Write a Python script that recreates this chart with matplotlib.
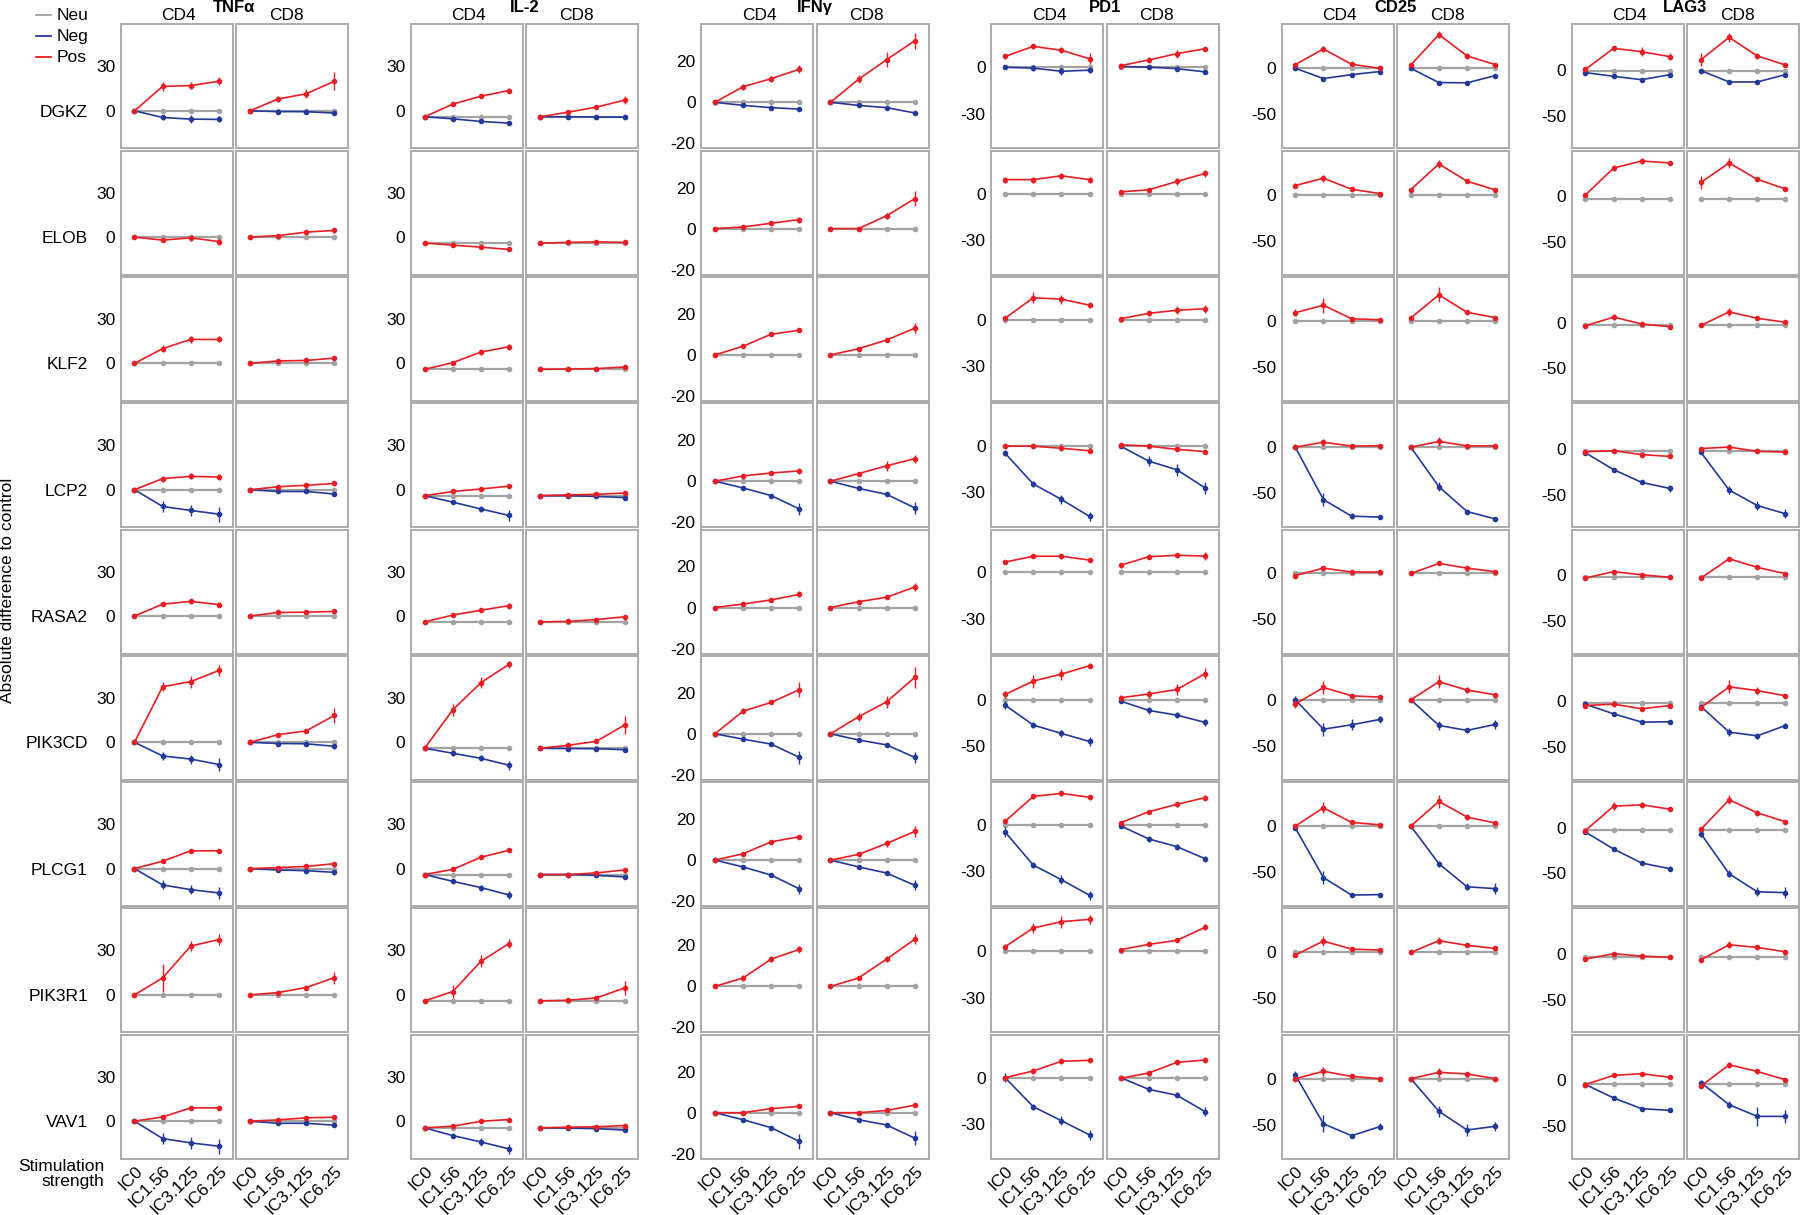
import numpy as np
import matplotlib
matplotlib.use("Agg")
import matplotlib.pyplot as plt
from matplotlib.lines import Line2D

plt.rcParams["font.family"] = ["Liberation Sans", "DejaVu Sans"]
plt.rcParams["axes.unicode_minus"] = False

# ---------------------------------------------------------------- data
doses = ["IC0", "IC1.56", "IC3.125", "IC6.25"]
cells = ["CD4", "CD8"]
genes = ["DGKZ", "ELOB", "KLF2", "LCP2", "RASA2", "PIK3CD", "PLCG1", "PIK3R1", "VAV1"]
neg_genes = ["DGKZ", "LCP2", "PIK3CD", "PLCG1", "VAV1"]
markers = ["TNFα", "IL-2", "IFNγ", "PD1", "CD25", "LAG3"]

# each entry: [CD4 values, CD8 values] per gene (order of `genes` / `neg_genes`)
tnfa_neu = [0, 0, 0, 0, 0, 0, 0, 0, 0]
tnfa_pos = [
    [[0, 16.5, 17, 20], [0, 8, 11.5, 20]],
    [[0, -2, -0.5, -3], [0, 1, 3.4, 4.5]],
    [[0, 10, 16.2, 16.2], [0, 1.7, 2, 3.6]],
    [[0, 7.5, 9, 8.6], [0, 2, 3, 4.2]],
    [[0, 8, 9.9, 7.7], [0, 2.4, 2.6, 3.1]],
    [[0, 37.5, 41, 48.5], [0, 5.2, 7.7, 18.2]],
    [[0, 5, 12, 12], [0, 0.7, 1.5, 3.3]],
    [[0, 11.5, 33, 37.4], [0, 1.6, 5, 11.7]],
    [[0, 2.9, 9, 9], [0, 0.9, 2.3, 2.7]],
]
tnfa_pos_err = [
    [[0.5, 3, 2.5, 2.5], [0.5, 2, 3, 6]],
    [[0.5, 1.5, 2, 2.5], [0.5, 1, 1.5, 1.5]],
    [[0.5, 2.5, 2.5, 2], [0.5, 1, 1.5, 1.5]],
    [[0.5, 2, 2, 2], [0.5, 1, 1, 1.5]],
    [[0.5, 1.5, 1.5, 1.5], [0.5, 1, 1, 1]],
    [[0.5, 3, 4, 4], [0.5, 1, 1, 5]],
    [[0.5, 1.5, 1.5, 1.5], [0.5, 1, 1, 1.5]],
    [[0.5, 9.5, 3.5, 4], [0.5, 1, 1.5, 4]],
    [[0.5, 1.5, 1.5, 1.5], [0.5, 1, 1, 1]],
]
tnfa_neg = [
    [[0, -4.5, -5.6, -5.8], [0, -0.5, -0.6, -1.5]],
    [[0, -11.3, -14, -16.5], [0, -1.2, -1.2, -2.9]],
    [[0, -9.2, -11.3, -15], [0, -0.8, -1, -2.7]],
    [[0, -11, -14.2, -16.4], [0, -0.9, -1.4, -2.5]],
    [[0, -11.7, -14.6, -16.9], [0, -1.4, -1.4, -2.7]],
]
tnfa_neg_err = [
    [[0.5, 1.5, 2.5, 2], [0.5, 1, 1, 1]],
    [[0.5, 3.5, 4, 5], [0.5, 1, 1, 1.5]],
    [[0.5, 3, 3, 4.5], [0.5, 1, 1, 1.5]],
    [[0.5, 3, 3, 4], [0.5, 1, 1, 1.5]],
    [[0.5, 3.5, 4, 5], [0.5, 1, 1, 1.5]],
]

il2_neu = [-4, -4, -4, -4, -4, -4, -4, -4, -4.5]
il2_pos = [
    [[-4, 4.5, 9.9, 13.7], [-4, -0.9, 2.5, 7.2]],
    [[-4, -5.4, -6.8, -8.3], [-4, -3.6, -3.2, -3.6]],
    [[-4, 0.5, 7.7, 11.3], [-4, -3.8, -3.5, -2.4]],
    [[-4, -1.2, 0.5, 2.4], [-4, -3.5, -3.1, -2.2]],
    [[-4, 0.7, 3.9, 7], [-4, -3.6, -2.4, -0.5]],
    [[-4, 22, 40.3, 52.7], [-4, -2, 0.7, 11.7]],
    [[-4, -0.5, 7.7, 12.4], [-4, -4, -2.9, -0.9]],
    [[-4, 2.3, 22.7, 34.7], [-4, -3.6, -2, 4.7]],
    [[-4.5, -3.4, 0, 1.1], [-4.5, -4, -3.8, -2.9]],
]
il2_pos_err = [
    [[0.5, 1.5, 1.5, 2], [0.5, 1, 1.5, 2.5]],
    [[0.5, 1, 1, 1], [0.5, 0.5, 0.5, 0.5]],
    [[0.5, 1, 2, 2], [0.5, 0.5, 0.5, 1]],
    [[0.5, 1, 1, 1], [0.5, 0.5, 0.5, 1]],
    [[0.5, 1, 1.5, 2], [0.5, 0.5, 0.5, 1]],
    [[0.5, 4, 3.5, 2.5], [0.5, 1, 1, 6]],
    [[0.5, 1, 1.5, 1.5], [0.5, 0.5, 0.5, 1]],
    [[0.5, 4.5, 4, 3], [0.5, 0.5, 1, 5]],
    [[0.5, 1, 1, 1], [0.5, 0.5, 0.5, 0.5]],
]
il2_neg = [
    [[-4, -5.4, -7.2, -8.3], [-4, -4, -4.2, -4.3]],
    [[-4, -8.4, -13, -17.4], [-4, -4, -4.5, -5.3]],
    [[-4, -7.4, -10.8, -15.5], [-4, -4.2, -4.3, -5]],
    [[-4, -8.6, -12.8, -17.8], [-4, -4, -4.5, -5.6]],
    [[-4.5, -9.7, -14, -18.7], [-4.5, -4.6, -5, -6]],
]
il2_neg_err = [
    [[0.5, 1, 1, 1], [0.5, 0.5, 0.5, 0.5]],
    [[0.5, 1.5, 2, 3.5], [0.5, 0.5, 0.5, 1]],
    [[0.5, 1.5, 2, 3], [0.5, 0.5, 0.5, 1]],
    [[0.5, 1.5, 2, 3], [0.5, 0.5, 0.5, 1]],
    [[0.5, 1.5, 2.5, 3.5], [0.5, 0.5, 0.5, 1]],
]

ifng_neu = [0, 0, 0, 0, 0, 0, 0, 0, 0]
ifng_pos = [
    [[0, 7.6, 11.5, 16.1], [0, 11.2, 20.8, 30]],
    [[0, 0.8, 2.6, 4.4], [0, 0, 6.3, 14.6]],
    [[0, 4.2, 10.1, 12], [0, 3, 7.3, 13]],
    [[0, 2.6, 4, 5], [0, 3.7, 7.5, 11]],
    [[0, 1.7, 3.7, 6.4], [0, 2.8, 5, 10]],
    [[0, 11, 15.3, 21.5], [0, 8.3, 15.6, 27.5]],
    [[0, 3.1, 8.9, 11.4], [0, 2.8, 8.1, 14]],
    [[0, 4.1, 13.3, 18], [0, 4.1, 13.3, 23]],
    [[0, 0, 2, 3.1], [0, 0, 1.1, 3.7]],
]
ifng_pos_err = [
    [[0.5, 1.5, 1.5, 2], [0.5, 2, 3.5, 4]],
    [[0.5, 0.5, 1, 1.5], [0.5, 0.5, 1.5, 3.5]],
    [[0.5, 1, 1, 1], [0.5, 1, 1, 2.5]],
    [[0.5, 1, 1, 1.5], [0.5, 1, 2.5, 2]],
    [[0.5, 0.5, 1, 1.5], [0.5, 1, 1, 2]],
    [[0.5, 1.5, 1, 3.5], [0.5, 2, 3, 5]],
    [[0.5, 0.5, 1, 1], [0.5, 1, 1.5, 2.5]],
    [[0.5, 1.5, 1.5, 1.5], [0.5, 1, 1.5, 2.5]],
    [[0.5, 0.5, 0.5, 0.5], [0.5, 0.5, 0.5, 0.5]],
]
ifng_neg = [
    [[0, -1.5, -2.6, -3.3], [0, -1.5, -2.6, -5.2]],
    [[0, -3.3, -7, -13.5], [0, -3.5, -6.4, -13]],
    [[0, -2.6, -5, -11.5], [0, -3, -5.4, -11.5]],
    [[0, -3.3, -7.3, -14], [0, -3.3, -6.3, -12.3]],
    [[0, -3.4, -7.3, -14], [0, -3.4, -6, -12.4]],
]
ifng_neg_err = [
    [[0.5, 0.5, 0.5, 1], [0.5, 0.5, 0.5, 1]],
    [[0.5, 0.5, 1, 3], [0.5, 0.5, 1, 3]],
    [[0.5, 0.5, 1, 3], [0.5, 0.5, 1, 2.5]],
    [[0.5, 0.5, 1, 2.5], [0.5, 0.5, 1, 2.5]],
    [[0.5, 0.5, 1, 3.5], [0.5, 0.5, 1, 3.5]],
]

pd1_neu = [0, 0, 0, 0, 0, 0, 0, 0, 0]
pd1_pos = [
    [[7, 13.5, 11, 5.5], [1, 4.7, 8.8, 12]],
    [[9, 9, 11.5, 9], [1.1, 2.4, 7.8, 13]],
    [[1, 14.3, 13.4, 9.5], [0.7, 4.2, 6.2, 7.2]],
    [[0, 0, -1.4, -3], [0.9, 0, -2.1, -3.5]],
    [[6.7, 10.5, 10.5, 8], [4.6, 10.2, 11.1, 10.6]],
    [[5.8, 20.3, 27.9, 37], [2.2, 6.2, 11.2, 28.3]],
    [[2.4, 18.5, 20.5, 18], [1.5, 8.6, 13.4, 17.7]],
    [[3, 15.1, 19.2, 20.7], [1.1, 4.5, 7.1, 15.5]],
    [[0, 4.3, 10.6, 11.2], [-0.5, 3, 9.9, 11.4]],
]
pd1_pos_err = [
    [[1.5, 1.5, 2, 3.5], [1, 2, 2.5, 1]],
    [[2, 2, 2, 2], [1, 1.5, 2, 2.5]],
    [[1, 3.5, 3, 2], [1, 1.5, 2.5, 2.5]],
    [[1, 1.5, 1.5, 1.5], [1, 1, 1, 1]],
    [[1, 1, 1.5, 1.5], [1.5, 1.5, 1.5, 2.5]],
    [[4, 7, 6, 3], [3, 4, 6, 6]],
    [[1, 1.5, 1.5, 1.5], [1, 1, 1.5, 1.5]],
    [[2, 3, 4, 3], [1, 1, 1, 2]],
    [[1, 2, 2, 1.5], [1, 1, 1.5, 2]],
]
pd1_neg = [
    [[0, -0.6, -2.6, -1.9], [0.5, 0, -0.9, -3]],
    [[-4.6, -24.5, -34.5, -45.5], [0, -9.7, -15.3, -27]],
    [[-5.8, -27.5, -36.6, -45.3], [-1.4, -11.6, -16.7, -24.6]],
    [[-4.5, -25.9, -35.4, -45.5], [-0.5, -9, -14, -21.8]],
    [[0, -18.8, -27.9, -37.1], [0, -7.6, -11.4, -22]],
]
pd1_neg_err = [
    [[1, 2, 2.5, 2], [0.5, 1, 1, 1]],
    [[2, 2, 3, 3], [1, 3, 4, 4]],
    [[4, 3, 4, 5], [2, 4, 3, 4]],
    [[3, 2, 3, 3], [1, 2, 2, 2]],
    [[3, 2, 3, 3], [1, 2, 2, 3]],
]

cd25_neu = [0, 0, 0, 0, 0, 0, 0, 0, 0]
cd25_pos = [
    [[4, 21, 4.3, 0], [3.6, 36.6, 13.4, 4]],
    [[9.8, 17.8, 5.8, 1.1], [5.4, 33.3, 14.5, 5.1]],
    [[8.9, 17, 2.3, 1.2], [3.1, 28.3, 9.3, 3.5]],
    [[0, 5.4, 1.2, 1.6], [0, 6.2, 1.4, 1.4]],
    [[-2.3, 5.8, 1.6, 1.6], [0, 10.9, 5.8, 1.9]],
    [[-4.7, 13.4, 4.3, 2.9], [0, 19.6, 10.5, 5.4]],
    [[0, 19.9, 4, 1.4], [0, 26.8, 9.8, 3.3]],
    [[-2.9, 12.3, 3.6, 2.5], [0, 12.7, 7.6, 4.3]],
    [[0, 8, 2.5, 0], [0, 6.9, 5.1, 0]],
]
cd25_pos_err = [
    [[2, 3, 2, 1.5], [2, 4, 3, 2]],
    [[3, 4, 2, 1.5], [2, 4, 2, 1.5]],
    [[4, 8, 2, 1.5], [2, 8, 3, 2]],
    [[1.5, 4, 2, 1.5], [1.5, 5, 2, 2]],
    [[2, 2, 2, 1.5], [1.5, 2, 2, 1.5]],
    [[4, 7, 2, 2], [2, 7, 3, 2]],
    [[2, 6, 2, 2], [2, 7, 3, 2]],
    [[2, 5, 2, 2], [1.5, 4, 2, 2]],
    [[2, 5, 2, 1.5], [1.5, 5, 2, 1.5]],
]
cd25_neg = [
    [[0, -11.2, -6.9, -3.6], [0, -15.6, -15.8, -8]],
    [[0, -57, -75, -76], [0, -43, -70, -78]],
    [[0, -32, -27.2, -21.4], [0, -27.9, -33.3, -26.8]],
    [[-2, -56, -75, -74.5], [0, -41, -66, -68]],
    [[4, -49, -62, -52.2], [0, -35.5, -55.8, -51.8]],
]
cd25_neg_err = [
    [[1.5, 2, 2, 2], [1.5, 2, 2, 2]],
    [[2, 7, 3, 2], [2, 5, 3, 2]],
    [[4, 7, 6, 4], [2, 5, 3, 5]],
    [[2, 7, 2, 2], [2, 3, 4, 6]],
    [[4, 9, 2, 4], [2, 6, 6, 5]],
]

lag3_neu = [-1.5, -2.9, -2.7, -2.3, -2.3, -2.2, -2.9, -3.6, -4.4]
lag3_pos = [
    [[0.7, 23.7, 20, 14.6], [11.3, 35.7, 15.3, 5.5]],
    [[1.5, 31, 38.6, 36.5], [15.3, 36.5, 18.6, 8]],
    [[-3.5, 6, -1.5, -4.5], [-3.1, 11.7, 4.7, 0.4]],
    [[-3.1, -2, -6.3, -8.2], [0.4, 2, -2.7, -3.5]],
    [[-3.1, 3.9, 0.4, -2.3], [-3.1, 17.9, 8.6, 1.6]],
    [[-4.4, -2.9, -8, -4.4], [-6.6, 16, 12, 6.2]],
    [[-3, 23.7, 25.1, 20.4], [-1.5, 30.6, 16.4, 6.6]],
    [[-5.5, 0.4, -2.2, -3.6], [-6.2, 10.2, 7.3, 2.5]],
    [[-4.5, 5.5, 7.3, 3.3], [-6.2, 17.1, 9.8, 0.7]],
]
lag3_pos_err = [
    [[2, 3, 5, 4], [7, 5, 3, 2]],
    [[1.5, 3, 3, 2], [7, 5, 3, 2]],
    [[2, 3, 2, 2], [2, 4, 2, 2]],
    [[1.5, 2, 2, 2], [2, 3, 2, 2]],
    [[1.5, 2, 2, 2], [1.5, 2.5, 2, 2]],
    [[2, 3, 2, 3], [2, 7, 4, 2]],
    [[2, 4, 3, 2], [2, 5, 3, 2]],
    [[2, 2, 2, 2], [2, 4, 3, 2]],
    [[2, 2, 2, 2], [2, 3, 3, 2]],
]
lag3_neg = [
    [[-2.9, -6.9, -10.6, -5.1], [-0.7, -13.1, -13.1, -5.1]],
    [[-4.3, -22.7, -36.7, -43.3], [-3.9, -45, -62, -71]],
    [[-3, -13.5, -22.6, -22.2], [-5.5, -33.5, -37.6, -26.3]],
    [[-4.7, -23.3, -38.6, -44.8], [-6.6, -50.3, -70, -71]],
    [[-4.5, -19.3, -31, -32.8], [-2.5, -26.6, -39.4, -39.4]],
]
lag3_neg_err = [
    [[1.5, 2, 2, 2], [2, 2, 2, 2]],
    [[1.5, 2, 2, 4], [2, 4, 5, 5]],
    [[1.5, 2, 2, 2], [2, 4, 3, 3]],
    [[1.5, 2, 2, 3], [3, 4, 5, 6]],
    [[1.5, 2, 2, 2], [3, 4, 10, 7]],
]

# y range and tick marks of each marker block
ylims = [(-25.3, 58.4), (-25.3, 58.4), (-22.4, 38), (-52.5, 27.8), (-87, 47.8), (-85.7, 50)]
yticks = [[0, 30], [0, 30], [-20, 0, 20], [-30, 0], [-50, 0], [-50, 0]]
# PD1 / PIK3CD row is drawn on the wider CD25 scale
pd1_pik3cd_lim = (-87, 47.8)
pd1_pik3cd_ticks = [-50, 0]

blocks = [
    (tnfa_neu, tnfa_pos, tnfa_pos_err, tnfa_neg, tnfa_neg_err),
    (il2_neu, il2_pos, il2_pos_err, il2_neg, il2_neg_err),
    (ifng_neu, ifng_pos, ifng_pos_err, ifng_neg, ifng_neg_err),
    (pd1_neu, pd1_pos, pd1_pos_err, pd1_neg, pd1_neg_err),
    (cd25_neu, cd25_pos, cd25_pos_err, cd25_neg, cd25_neg_err),
    (lag3_neu, lag3_pos, lag3_pos_err, lag3_neg, lag3_neg_err),
]

# ---------------------------------------------------------------- style / layout
W, H = 1800, 1215
RED, BLUE, GREY = "#ea1d24", "#23399a", "#a3a3a3"
FRAME = "#ababab"
FS = 12.5

GROUP_X0, GROUP_STEP = 120.7, 290.2
CELL_STEP, PANEL_W = 115.5, 112
ROW_Y0, ROW_STEP, PANEL_H = 24.3, 126.3, 124


def px_rect(x, y, w, h):
    return [x / W, 1 - (y + h) / H, w / W, h / H]


def series(ax, x, y, err, color, z, lw=1.2):
    ax.errorbar(x, y, yerr=err, color=color, lw=lw, marker="o", ms=3,
                elinewidth=1.0, capsize=0, zorder=z, clip_on=False)


fig = plt.figure(figsize=(W / 100, H / 100), dpi=100)
x = np.arange(len(doses))

for g, (neu, pos, pos_err, neg, neg_err) in enumerate(blocks):
    gx = GROUP_X0 + g * GROUP_STEP
    for r, gene in enumerate(genes):
        lim, ticks = ylims[g], yticks[g]
        if markers[g] == "PD1" and gene == "PIK3CD":
            lim, ticks = pd1_pik3cd_lim, pd1_pik3cd_ticks
        for c, cell in enumerate(cells):
            ax = fig.add_axes(px_rect(gx + c * CELL_STEP, ROW_Y0 + r * ROW_STEP, PANEL_W, PANEL_H))
            series(ax, x, [neu[r]] * len(doses), 0.3, GREY, 2, lw=1.6)
            if gene in neg_genes:
                k = neg_genes.index(gene)
                series(ax, x, neg[k][c], neg_err[k][c], BLUE, 3)
            series(ax, x, pos[r][c], pos_err[r][c], RED, 4)

            ax.set_xlim(-0.49, 3.49)
            ax.set_ylim(lim)
            for s in ax.spines.values():
                s.set_color(FRAME)
                s.set_linewidth(1.4)
            ax.tick_params(length=0, labelsize=FS, pad=4)
            if c == 0:
                ax.set_yticks(ticks)
                ax.set_yticklabels([str(t) for t in ticks])
            else:
                ax.set_yticks([])
            if r == len(genes) - 1:
                ax.set_xticks(x)
                ax.set_xticklabels(doses, rotation=45, ha="right", va="top",
                                   rotation_mode="anchor")
                ax.tick_params(axis="x", pad=3.5)
            else:
                ax.set_xticks([])
            if r == 0:
                shift = 2 if c == 0 else -6
                fig.text((gx + c * CELL_STEP + PANEL_W / 2 + shift) / W, 1 - 15.5 / H, cell,
                         ha="center", va="center", fontsize=FS)
            if g == 0 and c == 0:
                ax.annotate(gene, xy=(88 / W, 0), xycoords=("figure fraction", "data"),
                            ha="right", va="center_baseline", fontsize=FS)
    fig.text((gx + (CELL_STEP + PANEL_W) / 2) / W, 1 - 7.5 / H, markers[g],
             ha="center", va="center", fontsize=FS - 0.5, fontweight="bold")

# legend
for i, (name, col) in enumerate([("Neu", GREY), ("Neg", BLUE), ("Pos", RED)]):
    yy = 1 - (15 + 21 * i) / H
    fig.add_artist(Line2D([36 / W, 51 / W], [yy, yy], color=col, lw=1.3))
    fig.text(57 / W, yy, name, ha="left", va="center", fontsize=FS)

fig.text(8 / W, 1 - 590 / H, "Absolute difference to control", rotation=90,
         ha="center", va="center", fontsize=FS)
fig.text(104 / W, 1 - 1174 / H, "Stimulation\nstrength", ha="right", va="center",
         fontsize=FS, linespacing=1.0)

fig.savefig("out.png", dpi=100)
